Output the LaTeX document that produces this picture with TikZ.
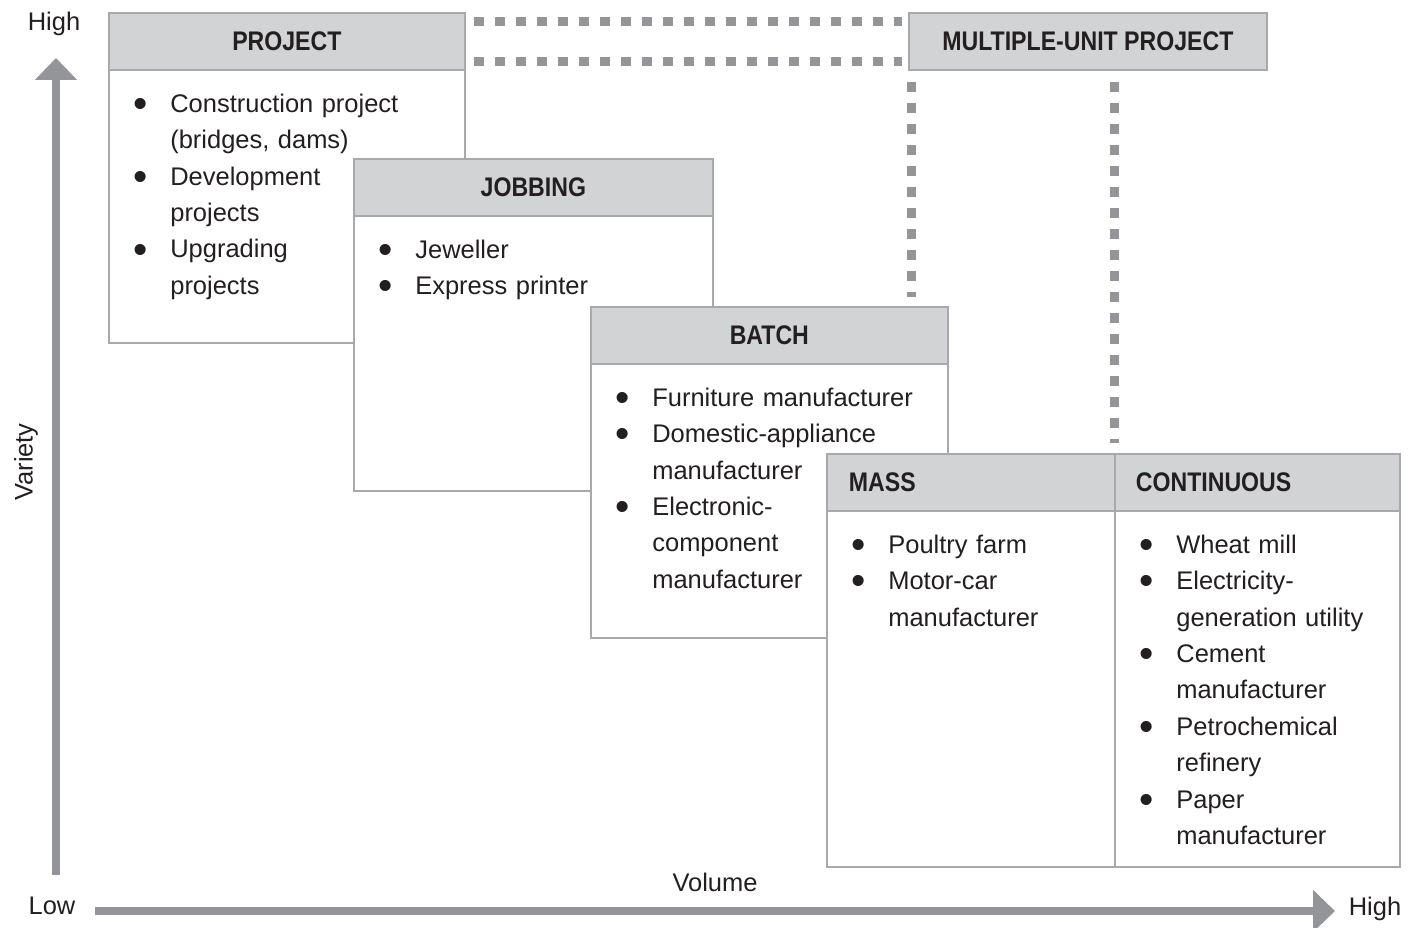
\documentclass[tikz,border=0pt]{standalone}
\usepackage{fontspec}
\setmainfont{Liberation Sans}
\newfontfamily\hdrfont{Liberation Sans}[FakeStretch=0.86]
\usetikzlibrary{positioning,calc,arrows.meta}
\definecolor{hdrgray}{HTML}{D1D3D4}
\definecolor{linegray}{HTML}{A7A9AC}
\definecolor{axisgray}{HTML}{939598}
\definecolor{inkgray}{HTML}{231F20}
\newcommand{\itm}[1]{\par\hangindent=0.74cm\hangafter=1\noindent
  \makebox[0.74cm][l]{\raisebox{-0.2em}{\scalebox{1.6}{\textbullet}}}\strut#1\par}

\begin{document}
\begin{tikzpicture}[x=0.02cm,y=-0.02cm,
  boxbody/.style={draw=linegray,line width=1pt,fill=white,inner sep=0pt,anchor=north west},
  boxhead/.style={draw=linegray,line width=1pt,fill=hdrgray,inner sep=0pt,anchor=north west,minimum height=1.15cm,
    font=\hdrfont\bfseries\fontsize{15.3pt}{18pt}\selectfont,text=inkgray},
  itemlist/.style={anchor=north west,inner sep=0pt,text width=6.6cm,align=left,
    font=\fontsize{14.5pt}{20.7pt}\selectfont,text=inkgray},
  axislabel/.style={font=\fontsize{14.5pt}{17pt}\selectfont,text=inkgray},
  axis/.style={draw=axisgray,line width=0.16cm,-{Triangle[length=0.44cm,width=0.82cm]}},
  dashline/.style={draw=axisgray,line width=0.18cm,dash pattern=on 0.2cm off 0.22cm}]
\useasboundingbox (0,0) rectangle (1412,928);

% axes
\coordinate (vlow) at (56,875);
\coordinate (vtop) at (56,58);
\coordinate (hleft) at (95,911);
\coordinate (hright) at (1335,911);
\draw[axis] (vlow) -- (vtop);
\draw[axis] (hleft) -- (hright);
\node[axislabel] (yhigh) at (54,24) {High};
\node[axislabel] (ylow) at (52,906) {Low};
\node[axislabel] (xhigh) at (1375,909) {High};
\node[axislabel] (xname) at (715,882) {Volume};
\node[axislabel,rotate=90] (yname) at (26,462) {Variety};

% project
\node[boxbody,minimum width=7.12cm,minimum height=6.6cm] (projB) at (108,12) {};
\node[boxhead,minimum width=7.12cm] (projH) at (108,12) {PROJECT};
\node[itemlist] (projL) at ($(projH.south west)+(25,4.5)$)
  {\itm{Construction project\newline (bridges, dams)}\itm{Development\newline projects}\itm{Upgrading\newline projects}};

% jobbing
\node[boxbody,minimum width=7.18cm,minimum height=6.64cm] (jobB) at (353,158) {};
\node[boxhead,minimum width=7.18cm] (jobH) at (353,158) {JOBBING};
\node[itemlist] (jobL) at ($(jobH.south west)+(25,4.5)$)
  {\itm{Jeweller}\itm{Express printer}};

% batch
\node[boxbody,minimum width=7.14cm,minimum height=6.62cm] (batB) at (590,306) {};
\node[boxhead,minimum width=7.14cm] (batH) at (590,306) {BATCH};
\node[itemlist] (batL) at ($(batH.south west)+(25,4.5)$)
  {\itm{Furniture manufacturer}\itm{Domestic-appliance\newline manufacturer}\itm{Electronic-\newline component\newline manufacturer}};

% mass
\node[boxbody,minimum width=5.76cm,minimum height=8.26cm] (massB) at (826,453) {};
\node[boxhead,minimum width=5.76cm,text width=4.88cm,inner xsep=0.44cm,align=left] (massH) at (826,453) {MASS};
\node[itemlist] (massL) at ($(massH.south west)+(25,4.5)$)
  {\itm{Poultry farm}\itm{Motor-car\newline manufacturer}};

% continuous
\node[boxbody,minimum width=5.70cm,minimum height=8.26cm] (contB) at (1114,453) {};
\node[boxhead,minimum width=5.70cm,text width=4.86cm,inner xsep=0.42cm,align=left] (contH) at (1114,453) {CONTINUOUS};
\node[itemlist] (contL) at ($(contH.south west)+(25,4.5)$)
  {\itm{Wheat mill}\itm{Electricity-\newline generation utility}\itm{Cement\newline manufacturer}\itm{Petrochemical\newline refinery}\itm{Paper\newline manufacturer}};

% multiple-unit project
\node[boxhead,minimum width=7.16cm] (multH) at (908,12) {MULTIPLE-UNIT PROJECT};

% dotted links
\draw[dashline] ($(projH.north east)+(8,10)$) -- ($(multH.north west)+(-6,10)$);
\draw[dashline] ($(projH.south east)+(8,-10)$) -- ($(multH.south west)+(-6,-10)$);
\draw[dashline] ($(multH.south west)+(3,11)$) -- ($(multH.south west |- batH.north)+(3,-9)$);
\draw[dashline] ($(contH.north west |- multH.south)+(0,11)$) -- ($(contH.north west)+(0,-10)$);
\end{tikzpicture}
\end{document}
